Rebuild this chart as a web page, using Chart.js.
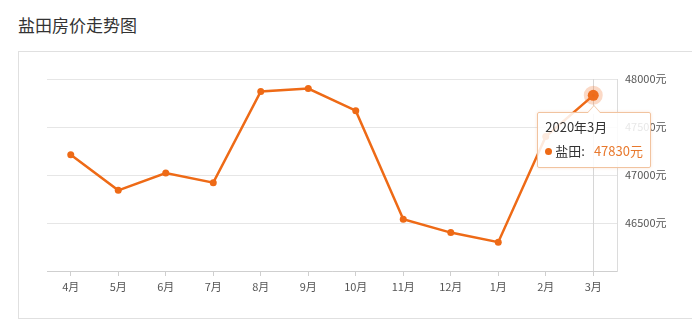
<!DOCTYPE html>
<html>
<head>
<meta charset="utf-8">
<script src="https://cdn.jsdelivr.net/npm/chart.js@4"></script>
<style>
  html, body { margin: 0; padding: 0; background: #fff; }
  body { width: 692px; height: 325px; position: relative; overflow: hidden; font-family: "Noto Sans CJK SC", "Noto Sans", sans-serif; }
  #title { position: absolute; left: 18px; top: 12px; font-size: 17px; color: #333; line-height: 26px; }
  #card { position: absolute; left: 18px; top: 51px; width: 700px; height: 266px; border: 1px solid #e0e0e0; background: #fff; }
  #chart { position: absolute; left: 0; top: 0; }
  #tip { position: absolute; background: rgba(255,255,255,0.86); border: 1px solid #f1c39f; border-radius: 2px;
         box-shadow: 0 0 3px rgba(230,140,80,0.25); font-size: 13px; color: #333; padding: 4px 8px 0 7px; box-sizing: border-box;
         width: 114px; height: 56px; pointer-events: none; display: none; }
  #tip .arrow, #tip .arrow-in { position: absolute; width: 0; height: 0; border-left: 7px solid transparent; border-right: 7px solid transparent; }
  #tip .arrow { top: -8px; left: 49px; border-bottom: 8px solid #f1c39f; }
  #tip .arrow-in { top: -7px; left: 49px; border-bottom: 8px solid #fff; }
  #tip .row { white-space: nowrap; line-height: 20px; }
  #tip .dot { display: inline-block; width: 7px; height: 7px; border-radius: 50%; background: #ee6a16; margin-right: 3px; vertical-align: 1px; }
  #tip .val { color: #e8792e; margin-left: 9px; }
</style>
</head>
<body>
<div id="title">盐田房价走势图</div>
<div id="card"></div>
<canvas id="chart" width="692" height="325"></canvas>
<div id="tip"></div>
<script>
// Data
const months = ['4月', '5月', '6月', '7月', '8月', '9月', '10月', '11月', '12月', '1月', '2月', '3月'];
const years = ['2019', '2019', '2019', '2019', '2019', '2019', '2019', '2019', '2019', '2020', '2020', '2020'];
const prices = [47210, 46840, 47020, 46920, 47870, 47900, 47670, 46540, 46400, 46300, 47400, 47830];
const yTicks = [46000, 46500, 47000, 47500, 48000];
const seriesName = '盐田';
const unit = '元';

const orange = '#ee6a16';
const activeIndex = prices.length - 1;

const tipEl = document.getElementById('tip');

function externalTooltip(ctx) {
    const t = ctx.tooltip;
    if (t.opacity === 0 || !t.dataPoints || !t.dataPoints.length) {
        tipEl.style.display = 'none';
        return;
    }
    const p = t.dataPoints[0];
    tipEl.innerHTML =
        '<div class="arrow"></div><div class="arrow-in"></div>' +
        '<div class="row">' + years[p.dataIndex] + '年' + months[p.dataIndex] + '</div>' +
        '<div class="row" style="margin-top:4px"><span class="dot"></span>' + seriesName + ':' +
        '<span class="val">' + prices[p.dataIndex] + unit + '</span></div>';
    tipEl.style.display = 'block';
    tipEl.style.left = (t.caretX - 56) + 'px';
    tipEl.style.top = (t.caretY + 17) + 'px';
}

// crosshair at the active point
const crosshair = {
    id: 'crosshair',
    beforeDatasetsDraw(chart) {
        const act = chart.tooltip.getActiveElements();
        if (!act.length) return;
        const x = chart.getDatasetMeta(0).data[act[0].index].x;
        const { top, bottom } = chart.chartArea;
        const c = chart.ctx;
        c.save();
        c.strokeStyle = '#d6d6d6';
        c.lineWidth = 1;
        c.beginPath();
        c.moveTo(Math.round(x) + 0.5, top);
        c.lineTo(Math.round(x) + 0.5, bottom);
        c.stroke();
        c.restore();
    }
};

const chart = new Chart(document.getElementById('chart'), {
    type: 'line',
    data: {
        labels: months,
        datasets: [{
            label: seriesName,
            data: prices,
            borderColor: orange,
            backgroundColor: orange,
            borderWidth: 2.5,
            tension: 0,
            pointRadius: c => c.dataIndex === activeIndex ? 5.5 : 3.5,
            pointBorderWidth: c => c.dataIndex === activeIndex ? 8 : 0,
            pointBorderColor: c => c.dataIndex === activeIndex ? 'rgba(240,120,50,0.28)' : orange,
            pointBackgroundColor: orange
        }]
    },
    options: {
        responsive: false,
        animation: false,
        events: [],
        layout: { padding: { left: 47, top: 79, right: 0, bottom: 0 } },
        plugins: {
            legend: { display: false },
            tooltip: { enabled: false, external: externalTooltip, mode: 'index', intersect: false }
        },
        scales: {
            x: {
                offset: true,
                afterFit: s => { s.height = 54; },
                grid: { offset: false, drawOnChartArea: false, tickLength: 5, color: '#cfcfcf' },
                border: { color: '#cfcfcf' },
                ticks: {
                    color: '#555',
                    padding: 4,
                    maxRotation: 0,
                    autoSkip: false,
                    font: { family: '"Noto Sans CJK SC", sans-serif', size: 11 }
                }
            },
            y: {
                position: 'right',
                min: yTicks[0],
                max: yTicks[yTicks.length - 1],
                afterFit: s => { s.width = 75; },
                afterBuildTicks: s => { s.ticks = yTicks.map(v => ({ value: v })); },
                grid: { color: '#e6e6e6', drawTicks: false },
                border: { color: '#dcdcdc' },
                ticks: {
                    color: '#555',
                    padding: 8,
                    font: { family: '"Noto Sans CJK SC", sans-serif', size: 11 },
                    callback: v => v === yTicks[0] ? '' : v + unit
                }
            }
        }
    },
    plugins: [crosshair]
});

const pt = chart.getDatasetMeta(0).data[activeIndex];
chart.tooltip.setActiveElements([{ datasetIndex: 0, index: activeIndex }], { x: pt.x, y: pt.y });
chart.update();
</script>
</body>
</html>
